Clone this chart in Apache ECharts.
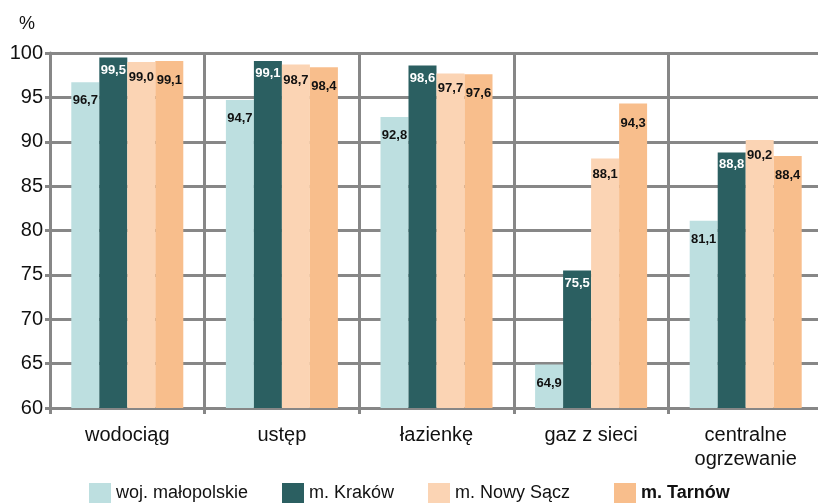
<!DOCTYPE html>
<html>
<head>
<meta charset="utf-8">
<script src="https://cdn.jsdelivr.net/npm/echarts@6/dist/echarts.min.js"></script>
<style>
html,body{margin:0;padding:0;background:#fff;}
#chart{width:818px;height:504px;}
</style>
</head>
<body>
<div id="chart"></div>
<script>
const categories = ['wodociąg', 'ustęp', 'łazienkę', 'gaz z sieci', 'centralne\nogrzewanie'];
const seriesNames = ['woj. małopolskie', 'm. Kraków', 'm. Nowy Sącz', 'm. Tarnów'];
const malopolskie = [96.7, 94.7, 92.8, 64.9, 81.1];
const krakow = [99.5, 99.1, 98.6, 75.5, 88.8];
const nowySacz = [99.0, 98.7, 97.7, 88.1, 90.2];
const tarnow = [99.1, 98.4, 97.6, 94.3, 88.4];
const yTicks = [60, 65, 70, 75, 80, 85, 90, 95, 100];

const FONT = '"Liberation Sans", Arial, sans-serif';
const GRID = '#878787';
const colors = ['#bddfe0', '#2b5f61', '#fbd4b4', '#f8be8c'];
const labelColors = ['#111', '#fff', '#111', '#111'];
const labelDist = [12, 6, 9, 13];
const legendLefts = [89, 282, 428, 614];
const values = [malopolskie, krakow, nowySacz, tarnow];

const chart = echarts.init(document.getElementById('chart'), null, {renderer: 'canvas'});
chart.setOption({
  animation: false,
  backgroundColor: '#fff',
  textStyle: {fontFamily: FONT},
  title: {
    text: '%', left: 14, top: 10,
    textStyle: {fontFamily: FONT, fontSize: 18, fontWeight: 'normal', color: '#111'}
  },
  grid: {left: 50, width: 773, top: 53, height: 355, containLabel: false, outerBoundsMode: 'none'},
  legend: seriesNames.map((n, i) => ({
    left: legendLefts[i], top: 483, padding: 0,
    itemWidth: 22, itemHeight: 20, itemGap: 0,
    icon: 'rect',
    selectedMode: false,
    textStyle: {fontFamily: FONT, fontSize: 18, color: '#111', fontWeight: i === 3 ? 'bold' : 'normal'},
    data: [n]
  })),
  xAxis: {
    type: 'category',
    data: categories,
    boundaryGap: true,
    axisLine: {show: true, lineStyle: {color: GRID, width: 3}},
    axisTick: {show: true, length: 6, interval: 0, lineStyle: {color: GRID, width: 3}},
    splitLine: {show: true, interval: 0, lineStyle: {color: GRID, width: 3}},
    axisLabel: {fontFamily: FONT, fontSize: 20, color: '#111', margin: 15, lineHeight: 24, interval: 0}
  },
  yAxis: {
    type: 'value',
    min: yTicks[0], max: yTicks[yTicks.length - 1], interval: 5,
    axisLine: {show: true, lineStyle: {color: GRID, width: 3}},
    axisTick: {show: true, length: 5, lineStyle: {color: GRID, width: 3}},
    splitLine: {show: true, lineStyle: {color: GRID, width: 3}},
    axisLabel: {fontFamily: FONT, fontSize: 20, color: '#111', margin: 7}
  },
  series: seriesNames.map((name, i) => ({
    name: name,
    type: 'bar',
    data: values[i],
    barWidth: 28,
    barGap: '0%',
    itemStyle: {color: colors[i]},
    label: {
      show: true,
      position: 'insideTop',
      distance: labelDist[i],
      fontFamily: FONT,
      fontSize: 13,
      fontWeight: 'bold',
      color: labelColors[i],
      formatter: p => p.value.toFixed(1).replace('.', ',')
    }
  }))
});
</script>
</body>
</html>
